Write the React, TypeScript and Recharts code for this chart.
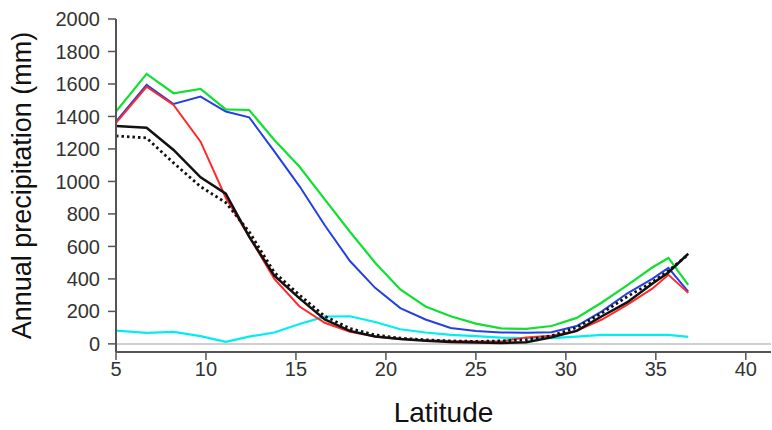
import { LineChart, Line, XAxis, YAxis, ReferenceLine, Label } from 'recharts';

const latitude = [5, 6.7, 8.2, 9.7, 11.1, 12.4, 13.8, 15.2, 16.6, 18.0, 19.4, 20.8, 22.2, 23.6, 25.0, 26.4, 27.8, 29.2, 30.6, 32.0, 33.4, 34.8, 35.7, 36.8];

const greenSeries = [1430, 1662, 1543, 1569, 1444, 1440, 1255, 1090, 890, 690, 500, 335, 230, 170, 125, 95, 92, 110, 160, 255, 360, 470, 529, 363];
const blueSeries = [1368, 1594, 1477, 1522, 1430, 1395, 1185, 970, 730, 510, 345, 220, 150, 98, 80, 70, 68, 72, 110, 200, 310, 400, 468, 322];
const redSeries = [1360, 1583, 1471, 1245, 900, 660, 400, 230, 130, 75, 45, 30, 22, 18, 15, 15, 40, 50, 80, 150, 240, 340, 425, 314];
const blackSeries = [1341, 1331, 1194, 1025, 925, 660, 420, 280, 150, 80, 45, 30, 20, 12, 8, 5, 10, 40, 80, 170, 255, 370, 440, 555];
const dottedSeries = [1280, 1268, 1114, 968, 870, 690, 440, 300, 170, 95, 55, 35, 25, 18, 15, 18, 25, 50, 100, 190, 290, 380, 450, 550];
const cyanSeries = [82, 68, 74, 48, 12, 45, 70, 122, 168, 170, 135, 90, 70, 55, 48, 38, 35, 36, 45, 55, 55, 55, 55, 43];

const xTicks = [5, 10, 15, 20, 25, 30, 35, 40];
const yTicks = [0, 200, 400, 600, 800, 1000, 1200, 1400, 1600, 1800, 2000];

const data = latitude.map((lat, i) => ({
  lat,
  green: greenSeries[i],
  blue: blueSeries[i],
  red: redSeries[i],
  black: blackSeries[i],
  dotted: dottedSeries[i],
  cyan: cyanSeries[i],
}));

const font = '"Liberation Sans", Arial, sans-serif';

export default function App() {
  return (
    <div style={{ position: 'absolute', left: 0, top: 0, width: 772, height: 430, background: '#fff', fontFamily: font }}>
      <LineChart width={772} height={430} data={data} margin={{ top: 19, right: 1, bottom: 0, left: 0 }}>
        <XAxis
          dataKey="lat"
          type="number"
          domain={[5, 41.4]}
          ticks={xTicks}
          allowDataOverflow
          height={78}
          tickSize={8}
          tickMargin={2}
          axisLine={{ stroke: '#555', strokeWidth: 2 }}
          tickLine={{ stroke: '#555', strokeWidth: 1.5 }}
          tick={{ fill: '#333', fontSize: 20, fontFamily: font }}
        >
          <Label value="Latitude" position="insideBottom" offset={8} style={{ fontSize: 28, fill: '#111', fontFamily: font }} />
        </XAxis>
        <YAxis
          type="number"
          domain={[-50, 2000]}
          ticks={yTicks}
          allowDataOverflow
          width={116}
          tickSize={8}
          tickMargin={8}
          axisLine={{ stroke: '#555', strokeWidth: 2 }}
          tickLine={{ stroke: '#555', strokeWidth: 1.5 }}
          tick={{ fill: '#333', fontSize: 20, fontFamily: font }}
        >
          <Label
            value="Annual precipitation (mm)"
            angle={-90}
            position="insideLeft"
            offset={21}
            style={{ fontSize: 27, fill: '#111', fontFamily: font, textAnchor: 'middle' }}
          />
        </YAxis>
        <ReferenceLine y={0} stroke="#cfcfcf" strokeWidth={2} />
        <Line type="linear" dataKey="cyan" stroke="#00eef0" strokeWidth={2.2} dot={false} isAnimationActive={false} />
        <Line type="linear" dataKey="green" stroke="#10e030" strokeWidth={2.2} dot={false} isAnimationActive={false} />
        <Line type="linear" dataKey="blue" stroke="#2540e0" strokeWidth={2} dot={false} isAnimationActive={false} />
        <Line type="linear" dataKey="red" stroke="#ff2a2a" strokeWidth={2} dot={false} isAnimationActive={false} />
        <Line type="linear" dataKey="black" stroke="#111" strokeWidth={2.5} dot={false} isAnimationActive={false} />
        <Line type="linear" dataKey="dotted" stroke="#111" strokeWidth={2.8} strokeDasharray="2.5 3" dot={false} isAnimationActive={false} />
      </LineChart>
    </div>
  );
}
